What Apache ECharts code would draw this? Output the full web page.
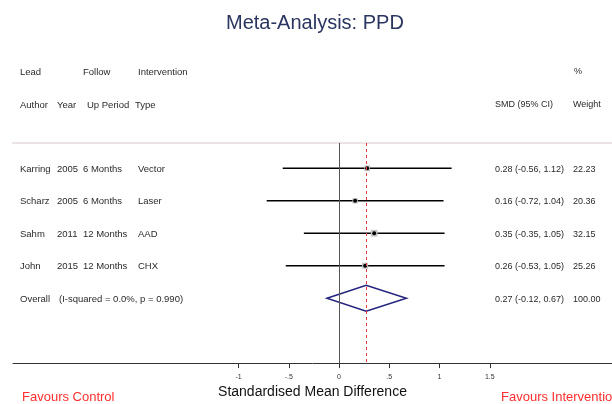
<!DOCTYPE html>
<html>
<head>
<meta charset="utf-8">
<title>Meta-Analysis: PPD</title>
<script src="https://cdn.jsdelivr.net/npm/echarts@6/dist/echarts.min.js"></script>
<style>
  html, body { margin: 0; padding: 0; background: #fff; }
  #chart { width: 612px; height: 404px; }
</style>
</head>
<body>
<div id="chart"></div>
<script>
// studies
var authors = ['Karring', 'Scharz', 'Sahm', 'John'];
var years = ['2005', '2005', '2011', '2015'];
var followUp = ['6 Months', '6 Months', '12 Months', '12 Months'];
var interventions = ['Vector', 'Laser', 'AAD', 'CHX'];
var smd = [0.28, 0.16, 0.35, 0.26];
var ciLow = [-0.56, -0.72, -0.35, -0.53];
var ciHigh = [1.12, 1.04, 1.05, 1.05];
var weights = [22.23, 20.36, 32.15, 25.26];

// pooled estimate
var overallName = 'Overall';
var overallStats = '(I-squared = 0.0%, p = 0.990)';
var overallSmd = 0.27;
var overallLow = -0.12;
var overallHigh = 0.67;
var overallWeight = 100.00;

// x axis ticks
var tickValues = [-1, -0.5, 0, 0.5, 1, 1.5];
var tickLabels = ['-1', '-.5', '0', '.5', '1', '1.5'];

var FONT = 'Liberation Sans, Arial, sans-serif';
var TXT = '#2a2a2a';

// column positions (px)
var colX = { author: 20, year: 57, period: 83, type: 138, stats: 59, smd: 495, weight: 573 };

// one row per study, then the overall row
var rows = [];
for (var i = 0; i < authors.length; i++) {
    rows.push([smd[i], i + 1, ciLow[i], ciHigh[i], weights[i], 0]);
}
rows.push([overallSmd, authors.length + 1, overallLow, overallHigh, overallWeight, 1]);

function fmt(v) { return v.toFixed(2); }

function txt(s, x, y, opts) {
    return {
        type: 'text',
        style: Object.assign({
            text: s, x: x, y: y, fill: TXT,
            fontSize: 9, fontFamily: FONT,
            align: 'left', verticalAlign: 'middle'
        }, opts || {})
    };
}

var L = { fontSize: 9.5 };

function renderRow(params, api) {
    var idx = params.dataIndex;
    var est = api.value(0), row = api.value(1);
    var lo = api.value(2), hi = api.value(3), w = api.value(4);
    var isOverall = api.value(5) === 1;
    var c = api.coord([est, row]);
    var pl = api.coord([lo, row]);
    var ph = api.coord([hi, row]);
    var y = c[1];
    var kids = [];

    if (isOverall) {
        var h = 13;
        kids.push({
            type: 'polygon',
            shape: { points: [[pl[0], y], [c[0], y - h], [ph[0], y], [c[0], y + h]] },
            style: { fill: 'rgba(0,0,0,0)', stroke: '#23237e', lineWidth: 1.5 }
        });
        kids.push(txt(overallName, colX.author, y + 1, L));
        kids.push(txt(overallStats, colX.stats, y + 1, L));
    } else {
        kids.push({
            type: 'line',
            shape: { x1: pl[0], y1: y, x2: ph[0], y2: y },
            style: { stroke: '#000', lineWidth: 1.6 }
        });
        var s = Math.sqrt(w) * 1.2;
        kids.push({
            type: 'rect',
            shape: { x: c[0] - s / 2, y: y - s / 2, width: s, height: s },
            style: { fill: '#c4c4c4' }
        });
        kids.push({
            type: 'circle',
            shape: { cx: c[0], cy: y, r: 2 },
            style: { fill: '#000' }
        });
        kids.push(txt(authors[idx], colX.author, y + 1, L));
        kids.push(txt(years[idx], colX.year, y + 1, L));
        kids.push(txt(followUp[idx], colX.period, y + 1, L));
        kids.push(txt(interventions[idx], colX.type, y + 1, L));
    }
    kids.push(txt(fmt(est) + ' (' + fmt(lo) + ', ' + fmt(hi) + ')', colX.smd, y + 1));
    kids.push(txt(fmt(w), colX.weight, y + 1));
    return { type: 'group', children: kids };
}

var xMin = -3.244, xMax = 2.716;

var chart = echarts.init(document.getElementById('chart'));
chart.setOption({
    animation: false,
    backgroundColor: '#fff',
    title: {
        text: 'Meta-Analysis: PPD',
        left: 221,
        top: 8,
        textStyle: { fontSize: 20, fontWeight: 'normal', color: '#2a3560', fontFamily: FONT }
    },
    grid: { left: 13, right: 0, top: 143, bottom: 40 },
    xAxis: [
        {
            type: 'value',
            min: xMin,
            max: xMax,
            position: 'bottom',
            name: 'Standardised Mean Difference',
            nameLocation: 'middle',
            nameGap: 12,
            nameTextStyle: { fontSize: 14, color: '#111', fontFamily: FONT },
            axisLine: { lineStyle: { color: '#333', width: 1 } },
            axisTick: { customValues: tickValues, length: 5, lineStyle: { color: '#333' } },
            axisLabel: {
                customValues: tickValues,
                fontSize: 7,
                margin: 10,
                color: '#333',
                fontFamily: FONT,
                formatter: function (v) { return tickLabels[tickValues.indexOf(v)]; }
            },
            splitLine: { show: false }
        },
        {
            type: 'value',
            min: xMin,
            max: xMax,
            position: 'top',
            axisLine: { lineStyle: { color: '#ebe3e3', width: 2 } },
            axisTick: { show: false },
            axisLabel: { show: false },
            splitLine: { show: false }
        }
    ],
    yAxis: {
        type: 'value',
        inverse: true,
        min: 0.22,
        max: 7.0,
        show: false
    },
    series: [{
        type: 'custom',
        renderItem: renderRow,
        data: rows,
        encode: { x: [0, 2, 3], y: 1 },
        markLine: {
            silent: true,
            symbol: 'none',
            label: { show: false },
            data: [
                { xAxis: 0, lineStyle: { color: '#555', type: 'solid', width: 1 } },
                { xAxis: overallSmd, lineStyle: { color: '#e03a3a', type: [3, 3], width: 1 } }
            ]
        }
    }],
    graphic: [
        txt('Lead', colX.author, 72, L),
        txt('Follow', 83, 72, L),
        txt('Intervention', colX.type, 72, L),
        txt('%', colX.weight + 1, 72),
        txt('Author', colX.author, 105, L),
        txt('Year', colX.year, 105, L),
        txt('Up Period', 87, 105, L),
        txt('Type', 135, 105, L),
        txt('SMD (95% CI)', colX.smd, 105),
        txt('Weight', colX.weight, 105),
        txt('Favours Control', 22, 397, { fontSize: 13, fill: '#ff2d2d' }),
        txt('Favours Intervention', 501, 397, { fontSize: 13, fill: '#ff2d2d' })
    ]
});
</script>
</body>
</html>
